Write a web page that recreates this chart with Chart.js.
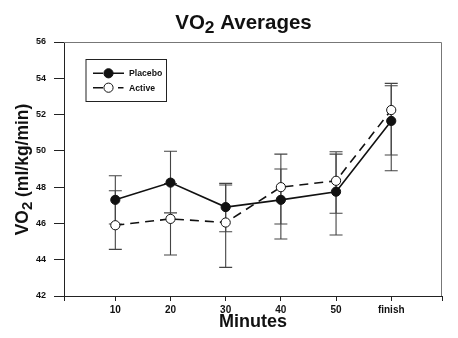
<!DOCTYPE html>
<html>
<head>
<meta charset="utf-8">
<script src="https://cdn.jsdelivr.net/npm/chart.js@4.4.1/dist/chart.umd.min.js"></script>
<style>
    html, body { margin: 0; padding: 0; background: #fff; }
</style>
</head>
<body>
<canvas id="vo2Chart" width="458" height="338"></canvas>
<script>
// x positions (minutes) and their tick labels
const minutes = [10, 20, 30, 40, 50, 60];
const minuteLabels = ['10', '20', '30', '40', '50', 'finish'];
const yTicks = [42, 44, 46, 48, 50, 52, 54, 56];

// means
const placebo = [47.3, 48.25, 46.9, 47.3, 47.75, 51.65];
const active = [45.9, 46.25, 46.05, 48.0, 48.35, 52.25];

// error bar ends
const placeboHi = [48.63, 49.98, 48.12, 49.0, 49.82, 53.59];
const placeboLo = [45.97, 46.58, 45.54, 45.14, 45.36, 49.77];
const activeHi = [47.8, 48.2, 48.21, 49.82, 49.95, 53.72];
const activeLo = [44.57, 44.26, 43.58, 45.97, 46.56, 48.9];

const FONT = '"Liberation Sans", Arial, Helvetica, sans-serif';
const INK = '#111';

function points(vals) {
    return minutes.map(function(m, i) { return { x: m, y: vals[i] }; });
}

// draws text like "VO" + subscript "2" + rest, centred on (0,0) baseline
function drawSubText(ctx, parts, size) {
    let total = 0;
    parts.forEach(function(p) {
        ctx.font = 'bold ' + (p.sub ? size * 0.85 : size) + 'px ' + FONT;
        p.w = ctx.measureText(p.t).width;
        total += p.w;
    });
    let x = -total / 2;
    parts.forEach(function(p) {
        ctx.font = 'bold ' + (p.sub ? size * 0.85 : size) + 'px ' + FONT;
        ctx.fillText(p.t, x, p.sub ? size * 0.2 : 0);
        x += p.w;
    });
}

const errorBars = {
    id: 'errorBars',
    beforeDatasetsDraw(chart) {
        const ctx = chart.ctx;
        const yScale = chart.scales.y;
        ctx.save();
        ctx.strokeStyle = '#444';
        ctx.lineWidth = 1.1;
        chart.data.datasets.forEach(function(ds, di) {
            const meta = chart.getDatasetMeta(di);
            meta.data.forEach(function(pt, i) {
                const top = yScale.getPixelForValue(ds.errHi[i]);
                const bot = yScale.getPixelForValue(ds.errLo[i]);
                ctx.beginPath();
                ctx.moveTo(pt.x, top);
                ctx.lineTo(pt.x, bot);
                ctx.moveTo(pt.x - 6.5, top);
                ctx.lineTo(pt.x + 6.5, top);
                ctx.moveTo(pt.x - 6.5, bot);
                ctx.lineTo(pt.x + 6.5, bot);
                ctx.stroke();
            });
        });
        ctx.restore();
    }
};

const frameAndText = {
    id: 'frameAndText',
    afterDraw(chart) {
        const ctx = chart.ctx;
        const a = chart.chartArea;
        ctx.save();
        // top and right frame lines
        ctx.strokeStyle = '#777';
        ctx.lineWidth = 1;
        ctx.beginPath();
        ctx.moveTo(a.left, a.top + 0.5);
        ctx.lineTo(a.right - 0.5, a.top + 0.5);
        ctx.lineTo(a.right - 0.5, a.bottom);
        ctx.stroke();

        ctx.fillStyle = INK;
        ctx.textBaseline = 'alphabetic';
        ctx.textAlign = 'left';

        // chart title
        ctx.save();
        ctx.translate(243.5, 28.5);
        drawSubText(ctx, [{ t: 'VO' }, { t: '2', sub: true }, { t: ' Averages' }], 20.5);
        ctx.restore();

        // y axis title
        ctx.save();
        ctx.translate(28, 169.5);
        ctx.rotate(-Math.PI / 2);
        drawSubText(ctx, [{ t: 'VO' }, { t: '2', sub: true }, { t: ' (ml/kg/min)' }], 17.5);
        ctx.restore();

        // legend box
        const bx = 86, by = 59.5, bw = 80.5, bh = 42;
        ctx.strokeStyle = '#222';
        ctx.strokeRect(bx, by, bw, bh);
        const rows = [73.3, 87.7];
        chart.data.datasets.forEach(function(ds, i) {
            const y = rows[i];
            ctx.strokeStyle = ds.borderColor;
            ctx.lineWidth = 1.4;
            ctx.beginPath();
            ctx.moveTo(93, y);
            ctx.lineTo(103, y);
            if (ds.borderDash) {
                ctx.moveTo(118, y);
                ctx.lineTo(123.5, y);
            } else {
                ctx.moveTo(113, y);
                ctx.lineTo(124, y);
            }
            ctx.stroke();
            ctx.beginPath();
            ctx.arc(108.5, y, 4.6, 0, Math.PI * 2);
            ctx.fillStyle = ds.pointBackgroundColor;
            ctx.fill();
            ctx.lineWidth = 1;
            ctx.strokeStyle = ds.pointBorderColor;
            ctx.stroke();
            ctx.fillStyle = INK;
            ctx.font = 'bold 8.7px ' + FONT;
            ctx.textBaseline = 'middle';
            ctx.fillText(ds.label, 129, y + 0.5);
        });
        ctx.restore();
    }
};

new Chart(document.getElementById('vo2Chart'), {
    type: 'line',
    data: {
        datasets: [
            {
                label: 'Placebo',
                data: points(placebo),
                errHi: placeboHi,
                errLo: placeboLo,
                borderColor: INK,
                borderWidth: 1.6,
                pointRadius: 4.6,
                pointBackgroundColor: INK,
                pointBorderColor: INK,
                pointBorderWidth: 1,
                tension: 0
            },
            {
                label: 'Active',
                data: points(active),
                errHi: activeHi,
                errLo: activeLo,
                borderColor: INK,
                borderWidth: 1.6,
                borderDash: [9, 6],
                pointRadius: 4.6,
                pointBackgroundColor: '#fff',
                pointBorderColor: INK,
                pointBorderWidth: 1,
                tension: 0
            }
        ]
    },
    options: {
        responsive: false,
        animation: false,
        layout: {
            padding: { top: 42, right: 16, left: 0, bottom: 0 }
        },
        plugins: {
            legend: { display: false },
            tooltip: { enabled: false },
            title: { display: false }
        },
        scales: {
            x: {
                type: 'linear',
                min: 0.7,
                max: 69.2,
                afterBuildTicks: function(scale) {
                    scale.ticks = [scale.min].concat(minutes, [scale.max]).map(function(v) { return { value: v }; });
                },
                afterFit: function(scale) { scale.height = 42; },
                ticks: {
                    autoSkip: false,
                    maxRotation: 0,
                    padding: 3,
                    color: INK,
                    font: { family: FONT, size: 10, weight: 'bold' },
                    callback: function(value) {
                        const i = minutes.indexOf(value);
                        return i < 0 ? '' : minuteLabels[i];
                    }
                },
                grid: {
                    drawOnChartArea: false,
                    drawTicks: true,
                    tickLength: 5,
                    color: '#222'
                },
                border: { display: true, color: '#222', width: 1 },
                title: {
                    display: true,
                    text: 'Minutes',
                    color: INK,
                    font: { family: FONT, size: 18, weight: 'bold' },
                    padding: { top: 5, bottom: 5 }
                }
            },
            y: {
                min: 42,
                max: 56,
                afterBuildTicks: function(scale) {
                    scale.ticks = yTicks.map(function(v) { return { value: v }; });
                },
                afterFit: function(scale) { scale.width = 64; },
                ticks: {
                    padding: 8,
                    color: INK,
                    font: { family: FONT, size: 9, weight: 'bold' }
                },
                grid: {
                    drawOnChartArea: false,
                    drawTicks: true,
                    tickLength: 10,
                    color: '#222'
                },
                border: { display: true, color: '#222', width: 1 }
            }
        }
    },
    plugins: [errorBars, frameAndText]
});
</script>
</body>
</html>
